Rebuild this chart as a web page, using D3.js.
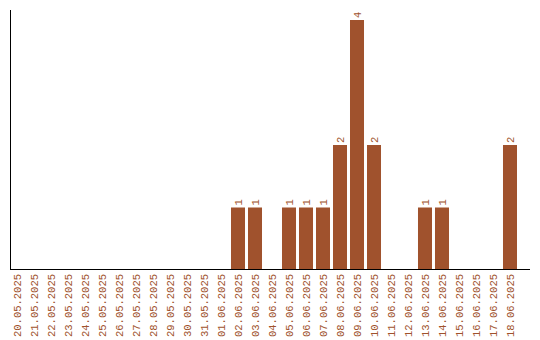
<!DOCTYPE html>
<html>
<head>
<meta charset="utf-8">
<script src="https://cdn.jsdelivr.net/npm/d3@7"></script>
<style>
    body { margin: 0; background: #fff; }
    text { font-family: "Liberation Mono", "Courier New", monospace; font-size: 10.5px; fill: #a0522d; }
</style>
</head>
<body>
<div id="chart"></div>
<script>
const dates = ["20.05.2025", "21.05.2025", "22.05.2025", "23.05.2025", "24.05.2025", "25.05.2025",
    "26.05.2025", "27.05.2025", "28.05.2025", "29.05.2025", "30.05.2025", "31.05.2025",
    "01.06.2025", "02.06.2025", "03.06.2025", "04.06.2025", "05.06.2025", "06.06.2025",
    "07.06.2025", "08.06.2025", "09.06.2025", "10.06.2025", "11.06.2025", "12.06.2025",
    "13.06.2025", "14.06.2025", "15.06.2025", "16.06.2025", "17.06.2025", "18.06.2025"];
const counts = [0, 0, 0, 0, 0, 0, 0, 0, 0, 0, 0, 0, 0, 1, 1, 0, 1, 1, 1, 2, 4, 2, 0, 0, 1, 1, 0, 0, 0, 2];

const width = 540, height = 340;
const baseY = 270, topY = 10, leftX = 10.5;

const svg = d3.select("#chart").append("svg")
    .attr("width", width)
    .attr("height", height);

const x = d3.scaleBand()
    .domain(dates)
    .range([10, 517])
    .paddingInner(0.176)
    .paddingOuter(0)
    .align(0);

const y = d3.scaleLinear()
    .domain([0, d3.max(counts) * 1.04])
    .range([baseY, topY]);

const data = dates.map((d, i) => ({ date: d, value: counts[i] }));

svg.selectAll(".bar")
    .data(data.filter(d => d.value > 0))
    .enter().append("rect")
    .attr("class", "bar")
    .attr("x", d => x(d.date))
    .attr("y", d => y(d.value))
    .attr("width", x.bandwidth())
    .attr("height", d => baseY - y(d.value))
    .style("fill", "#a0522d");

svg.selectAll(".val")
    .data(data.filter(d => d.value > 0))
    .enter().append("text")
    .attr("class", "val")
    .attr("transform", d => `translate(${x(d.date) + x.bandwidth() / 2},${y(d.value) - 2}) rotate(-90)`)
    .attr("dy", "0.35em")
    .style("text-anchor", "start")
    .text(d => d.value);

svg.selectAll(".tick-label")
    .data(dates)
    .enter().append("text")
    .attr("class", "tick-label")
    .attr("transform", d => `translate(${x(d) + x.bandwidth() / 2},274) rotate(-90)`)
    .attr("dy", "0.35em")
    .style("text-anchor", "end")
    .text(d => d);

svg.append("line")
    .attr("x1", leftX).attr("x2", leftX)
    .attr("y1", topY).attr("y2", baseY)
    .style("stroke", "#000").style("stroke-width", 1);

svg.append("line")
    .attr("x1", leftX).attr("x2", 530)
    .attr("y1", baseY - 0.5).attr("y2", baseY - 0.5)
    .style("stroke", "#000").style("stroke-width", 1);
</script>
</body>
</html>
